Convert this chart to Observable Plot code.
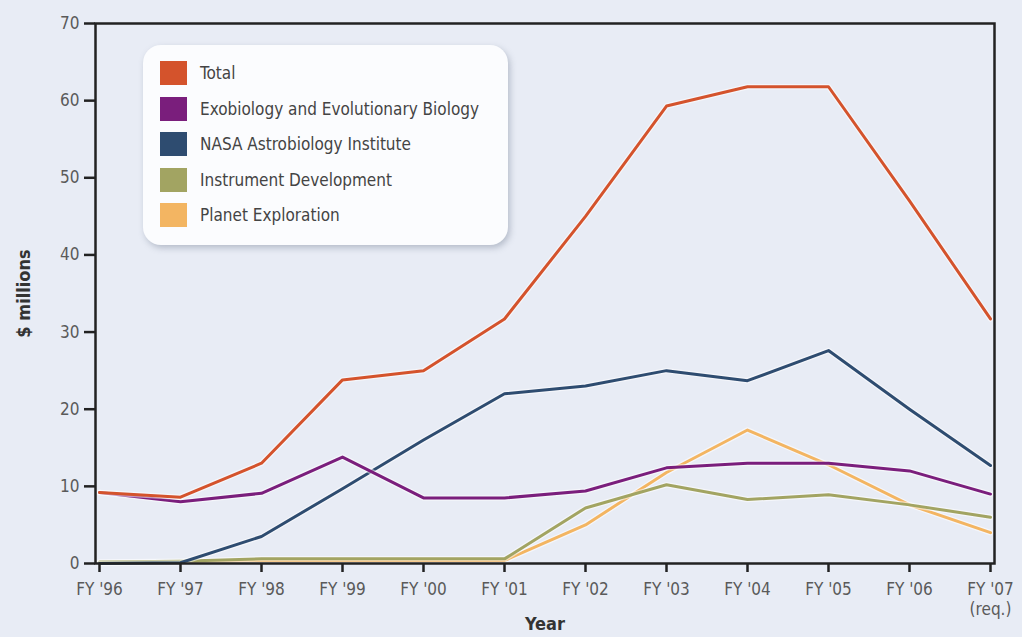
<!DOCTYPE html>
<html>
<head>
<meta charset="utf-8">
<script src="https://cdn.jsdelivr.net/npm/d3@7"></script>
<script src="https://cdn.jsdelivr.net/npm/@observablehq/plot@0.6"></script>
<style>
  html, body { margin: 0; padding: 0; background: #e8ecf5; }
  #wrap { position: relative; width: 1022px; height: 637px; background: #e8ecf5; }
  #legend {
    position: absolute; left: 143px; top: 45px; width: 365px; height: 200px;
    background: #fbfcfe; border-radius: 18px;
    box-shadow: 2px 3px 6px rgba(120,130,150,0.45);
    font-family: "Liberation Sans Narrow", "DejaVu Sans Condensed", sans-serif;
    font-size: 17px; color: #444;
  }
  .row { position: absolute; left: 17px; height: 24px; display: flex; align-items: center; }
  .sw { width: 27px; height: 24px; margin-right: 13px; }
</style>
</head>
<body>
<div id="wrap"></div>
<script>
const years = ["FY '96","FY '97","FY '98","FY '99","FY '00","FY '01","FY '02","FY '03","FY '04","FY '05","FY '06","FY '07"];
const seriesNames = ["Total","Exobiology and Evolutionary Biology","NASA Astrobiology Institute","Instrument Development","Planet Exploration"];
const seriesColors = ["#d4532c","#7a1e7c","#2e4c70","#a2a462","#f3b562"];
const total      = [9.2, 8.6, 13.0, 23.8, 25.0, 31.7, 45.0, 59.3, 61.8, 61.8, 47.0, 31.7];
const exobiology = [9.2, 8.0, 9.1, 13.8, 8.5, 8.5, 9.4, 12.4, 13.0, 13.0, 12.0, 9.0];
const nai        = [0.0, 0.1, 3.5, 9.7, 16.0, 22.0, 23.0, 25.0, 23.7, 27.6, 20.0, 12.7];
const instrument = [0.2, 0.3, 0.6, 0.6, 0.6, 0.6, 7.2, 10.2, 8.3, 8.9, 7.6, 6.0];
const planet     = [0.1, 0.2, 0.4, 0.4, 0.4, 0.4, 5.0, 11.8, 17.3, 12.8, 7.6, 4.0];
const yTicks = [0, 10, 20, 30, 40, 50, 60, 70];

const seriesValues = [total, exobiology, nai, instrument, planet];
const data = [];
seriesNames.forEach((s, i) => years.forEach((y, j) => data.push({series: s, year: y, value: seriesValues[i][j]})));
const drawOrder = ["Planet Exploration","Instrument Development","NASA Astrobiology Institute","Exobiology and Evolutionary Biology","Total"];
const font = "'Liberation Sans Narrow', 'DejaVu Sans Condensed', sans-serif";

const marks = [];
for (const s of drawOrder) {
  const d = data.filter(r => r.series === s);
  marks.push(Plot.line(d, {x: "year", y: "value", stroke: "white", strokeWidth: 5.5, strokeOpacity: 0.55}));
  marks.push(Plot.line(d, {x: "year", y: "value", stroke: "series", strokeWidth: 3}));
}

const chart = Plot.plot({
  width: 1022,
  height: 637,
  marginLeft: 95,
  marginRight: 28,
  marginTop: 23,
  marginBottom: 74,
  style: {background: "transparent", fontFamily: font},
  x: {type: "point", domain: years, padding: 0, label: null},
  y: {domain: [0, 70], label: null},
  color: {domain: seriesNames, range: seriesColors},
  marks: [
    ...marks,
    Plot.frame({stroke: "#222", strokeWidth: 2.5}),
    Plot.axisX({
      tickSize: 9, tickPadding: 9, strokeWidth: 2.5, stroke: "#222",
      fontSize: 17, fill: "#5a5a5a", lineHeight: 1.15,
      tickFormat: d => d === "FY '07" ? "FY '07\n(req.)" : d,
      label: "Year", labelAnchor: "center", labelOffset: 66
    }),
    Plot.axisY({
      ticks: yTicks, tickSize: 11, tickPadding: 5, strokeWidth: 2.5, stroke: "#222",
      fontSize: 17, fill: "#5a5a5a",
      label: "$ millions", labelAnchor: "center", labelOffset: 78, labelArrow: "none"
    })
  ]
});
const wrap = document.getElementById("wrap");
wrap.appendChild(chart);
chart.querySelectorAll("g[aria-label='x-axis label'] text, g[aria-label='y-axis label'] text").forEach(t => {
  t.setAttribute("fill", "#333");
  t.setAttribute("font-weight", "bold");
  t.setAttribute("font-size", "18");
});

const legend = document.createElement("div");
legend.id = "legend";
seriesNames.forEach((s, i) => {
  const row = document.createElement("div");
  row.className = "row";
  row.style.top = (16 + i * 35.5) + "px";
  const sw = document.createElement("div");
  sw.className = "sw";
  sw.style.background = seriesColors[i];
  const lab = document.createElement("span");
  lab.textContent = s;
  row.appendChild(sw); row.appendChild(lab);
  legend.appendChild(row);
});
wrap.appendChild(legend);
</script>
</body>
</html>
